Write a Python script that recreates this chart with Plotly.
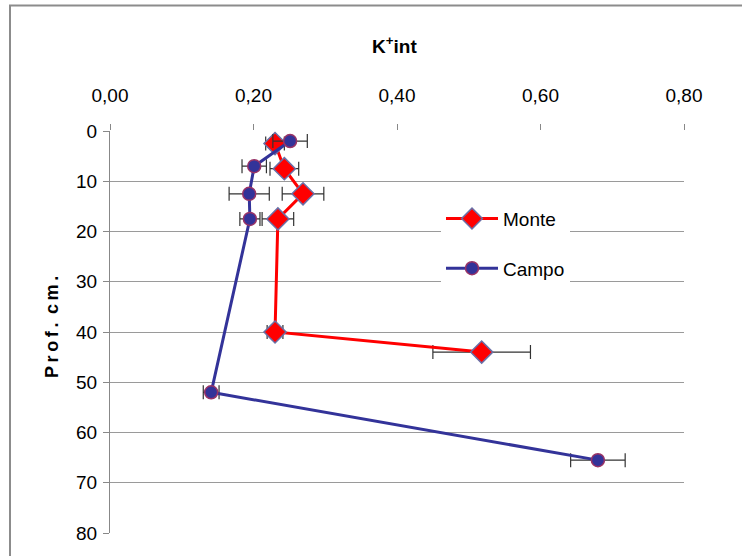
import plotly.graph_objects as go

depth_monte = [2.5, 7.5, 12.5, 17.5, 40, 44]
k_monte = [0.230, 0.243, 0.269, 0.234, 0.230, 0.518]
err_monte = [0.013, 0.020, 0.029, 0.022, 0.011, 0.068]

depth_campo = [2, 7, 12.5, 17.5, 52, 65.5]
k_campo = [0.251, 0.201, 0.194, 0.195, 0.141, 0.680]
err_campo = [0.024, 0.017, 0.028, 0.014, 0.011, 0.038]

x_ticks = [0, 0.2, 0.4, 0.6, 0.8]
y_ticks = [0, 10, 20, 30, 40, 50, 60, 70, 80]

FONT = "Liberation Sans, Arial, sans-serif"

fig = go.Figure()
fig.add_trace(go.Scatter(
    x=k_monte, y=depth_monte, name="Monte", mode="lines+markers",
    line=dict(color="#FF0000", width=3),
    marker=dict(symbol="diamond", size=17, color="#FF0000",
                line=dict(color="#6A6FA6", width=1.5)),
    error_x=dict(type="data", array=err_monte, color="#333333",
                 thickness=1.2, width=7),
    legendgroup="a",
))
fig.add_trace(go.Scatter(
    x=k_campo, y=depth_campo, name="Campo", mode="lines+markers",
    line=dict(color="#333399", width=3),
    marker=dict(symbol="circle", size=13, color="#333399",
                line=dict(color="#993366", width=1.5)),
    error_x=dict(type="data", array=err_campo, color="#333333",
                 thickness=1.2, width=7),
    legendgroup="b",
))

W, H = 742, 556
L, R, T, B = 110, 58, 131, 21
pw, ph = W - L - R, H - T - B

def px2paper_x(px):
    return (px - L) / pw

def px2paper_y(py):
    return 1 - (py - T) / ph

fig.update_layout(
    width=W, height=H,
    margin=dict(l=L, r=R, t=T, b=B),
    paper_bgcolor="white", plot_bgcolor="white",
    separators=",.",
    font=dict(family=FONT, size=19, color="#000000"),
    showlegend=True,
    legend=dict(x=px2paper_x(441), y=px2paper_y(200), xanchor="left", yanchor="top",
                bgcolor="white", font=dict(size=19), tracegroupgap=22,
                itemwidth=52),
    xaxis=dict(side="top", range=[0, 0.8], tickvals=x_ticks, tickformat=".2f",
               showgrid=False, zeroline=False, showline=False,
               ticks="outside", ticklen=6, tickcolor="#888888",
               tickfont=dict(size=19), ticklabelstandoff=14),
    yaxis=dict(range=[80, 0], tickvals=y_ticks, showgrid=True,
               gridcolor="#9A9A9A", gridwidth=1.3, zeroline=False,
               showline=True, linecolor="#888888", linewidth=1.3,
               ticks="outside", ticklen=6, tickcolor="#888888",
               tickfont=dict(size=19), ticklabelstandoff=2),
    shapes=[dict(type="rect", xref="paper", yref="paper",
                 x0=px2paper_x(10), x1=px2paper_x(800),
                 y0=px2paper_y(600), y1=px2paper_y(5),
                 line=dict(color="#8C8C8C", width=2), fillcolor="rgba(0,0,0,0)",
                 layer="below")],
    annotations=[
        dict(text="<b>K<sup>+</sup>int</b>", xref="paper", yref="paper",
             x=px2paper_x(394), y=px2paper_y(45), xanchor="center", yanchor="middle",
             showarrow=False, font=dict(size=19)),
        dict(text="<b>P\u2009r\u2009o\u2009f\u2009.\u2009 c\u2009m\u2009.</b>", xref="paper", yref="paper",
             x=px2paper_x(52), y=px2paper_y(328), xanchor="center", yanchor="middle",
             textangle=-90, showarrow=False, font=dict(size=18)),
    ],
)

fig.write_html("out.html")
